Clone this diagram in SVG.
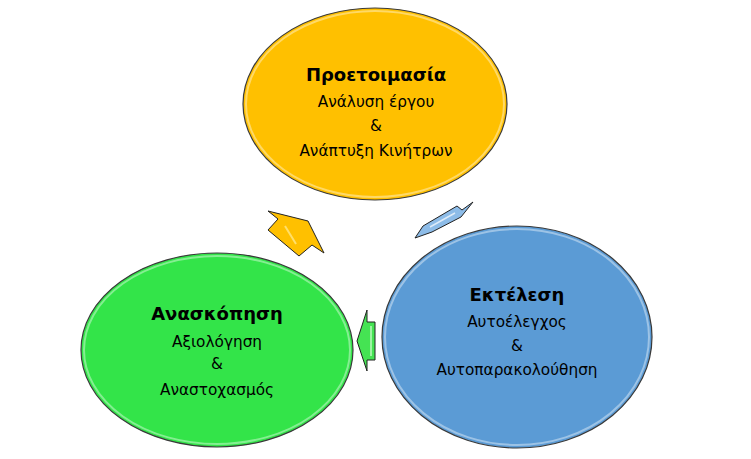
<svg xmlns="http://www.w3.org/2000/svg" width="751" height="459" viewBox="0 0 751 459">
<defs>
<style>
.circ{stroke:#3a3a3a;stroke-width:1.2}
.hl{fill:none;stroke:#ffffff;stroke-opacity:0.4;stroke-width:2}
.arr{stroke:#222;stroke-width:1;stroke-linejoin:miter}
.title{font-family:"DejaVu Sans","Noto Sans",sans-serif;font-weight:bold;font-size:18px;fill:#000;text-anchor:middle}
.sub{font-family:"DejaVu Sans","Noto Sans",sans-serif;font-size:15.3px;fill:#000;text-anchor:middle}
</style>
</defs>
<rect width="751" height="459" fill="#ffffff"/>
<g id="connectors">
<polygon class="arr" points="268,211 308,221 324,253 312,245 299,256 268,230 278,219" fill="#FFC000"/>
<polyline points="285,226 296,244" fill="none" stroke="#fff3b0" stroke-width="2" stroke-opacity="0.6"/>
<polygon class="arr" points="415,238 423,226 457,206 462,210 473,202 461,217 432,232" fill="#8DBCE8"/>
<polyline points="430,227 455,213" fill="none" stroke="#ffffff" stroke-width="1.5" stroke-opacity="0.7"/>
<polygon class="arr" points="357,341 367,310 367,322 375,322 375,360 367,360 367,371" fill="#45E353"/>
<polyline points="371,326 371,356" fill="none" stroke="#d8ffd8" stroke-width="1.5" stroke-opacity="0.8"/>
</g>
<g id="node-proetoimasia">
<ellipse class="circ" cx="375" cy="104" rx="132" ry="96" fill="#FFC000"/>
<ellipse class="hl" cx="375" cy="104" rx="129" ry="93"/>
<text class="title" x="376" y="81">Προετοιμασία</text>
<text class="sub" x="376" y="107">Ανάλυση έργου</text>
<text class="sub" x="376" y="131">&amp;</text>
<text class="sub" x="376" y="156">Ανάπτυξη Κινήτρων</text>
</g>
<g id="node-ektelesi">
<ellipse class="circ" cx="517" cy="337" rx="135" ry="111" fill="#5B9BD5"/>
<ellipse class="hl" cx="517" cy="337" rx="132" ry="108"/>
<text class="title" x="517" y="301">Εκτέλεση</text>
<text class="sub" x="517" y="327">Αυτοέλεγχος</text>
<text class="sub" x="517" y="351">&amp;</text>
<text class="sub" x="517" y="375">Αυτοπαρακολούθηση</text>
</g>
<g id="node-anaskopisi">
<ellipse class="circ" cx="217" cy="350" rx="136" ry="97" fill="#33E449"/>
<ellipse class="hl" cx="217" cy="350" rx="133" ry="94"/>
<text class="title" x="217" y="320">Ανασκόπηση</text>
<text class="sub" x="217" y="347">Αξιολόγηση</text>
<text class="sub" x="217" y="369">&amp;</text>
<text class="sub" x="217" y="395">Αναστοχασμός</text>
</g>
</svg>
